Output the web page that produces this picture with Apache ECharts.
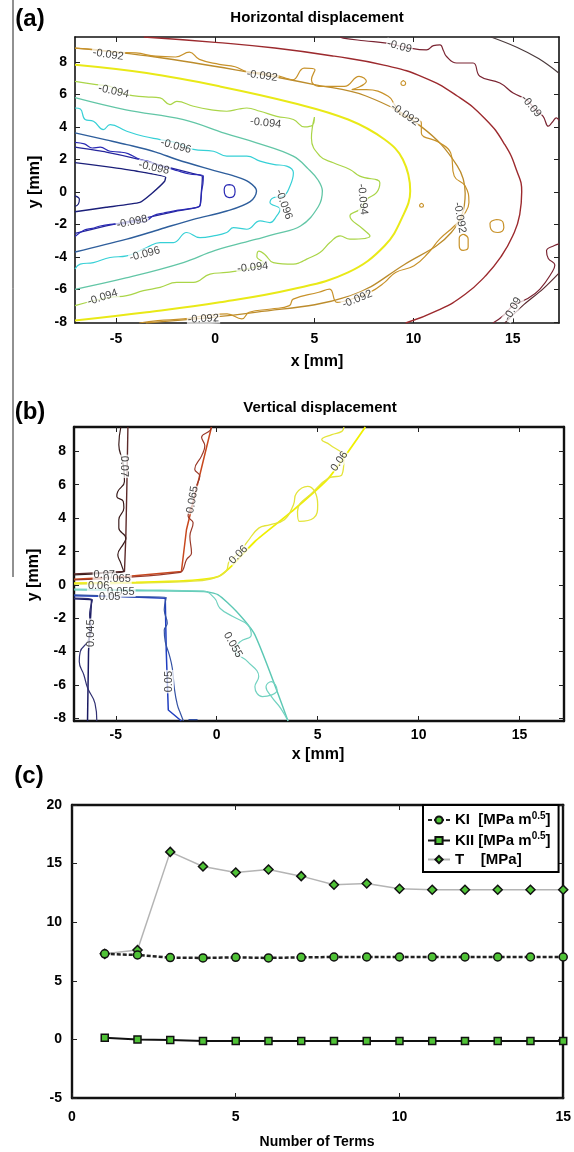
<!DOCTYPE html>
<html>
<head>
<meta charset="utf-8">
<script src="https://cdn.jsdelivr.net/npm/echarts@6/dist/echarts.min.js"></script>
<style>
html,body{margin:0;padding:0;background:#fff;}
#c{width:574px;height:1152px;}
</style>
</head>
<body>
<div id="c"></div>
<script>
// ---------------- Panel (a): horizontal displacement contours [x mm, y mm] ----------------
const aNavyInner = [[-7.07,1.8],[-5.5,1.55],[-4.0,1.28],[-2.5,0.9],[-2.55,0.65],[-3.2,-0.1],[-3.8,-0.65],[-5.5,-0.95],[-7.07,-1.22]];
const aNavyNub = [[-7.07,-0.25],[-6.85,-0.45],[-6.9,-0.75],[-7.07,-0.9]];
const aNavyOuter = [[-7.07,2.75],[-5.5,2.45],[-4,2.05],[-2.5,1.55],[-1.2,1.15],[-0.65,0.95],[-0.7,0.0],[-0.8,-0.9],[-2.0,-1.2],[-3.5,-1.6],[-5.5,-2.1],[-7.07,-2.55]];
const aNavyNoisy = [[-7.07,3.05],[-6.6,2.95],[-6.2,2.7],[-5.8,2.75],[-5.3,2.5],[-4.8,2.45],[-4.4,2.35],[-3.8,2.0],[-3.3,1.85],[-2.8,1.6],[-2.3,1.45],[-1.9,1.3],[-1.3,1.1],[-0.6,0.97],[-0.62,0.5],[-0.68,0.1],[-0.72,-0.5],[-0.78,-0.87],[-1.4,-1.05],[-2.0,-1.15],[-2.6,-1.3],[-3.1,-1.45],[-3.6,-1.85],[-4.1,-1.85],[-4.6,-1.95],[-5.3,-2.0],[-5.8,-2.1],[-6.2,-2.25],[-6.6,-2.35],[-7.07,-2.75]];
const aNavyDot = [[0.72,0.45],[0.95,0.32],[1.0,0.0],[0.92,-0.28],[0.7,-0.35],[0.5,-0.2],[0.45,0.15],[0.55,0.4],[0.72,0.45]];
const aSteel = [[-7.07,3.63],[-5.5,3.2],[-4.46,2.91],[-3,2.45],[-1.94,1.99],[-0.26,1.38],[1.0,0.95],[1.7,0.6],[2.08,0.05],[1.76,-0.6],[0.58,-1.18],[-1.1,-1.69],[-2.78,-2.3],[-4.46,-2.91],[-7.07,-3.7]];
const aCyanNoisy = [[-7.07,5.16],[-6.8,5.1],[-6.56,4.45],[-6.14,4.35],[-5.64,3.83],[-5.3,4.14],[-4.46,3.73],[-3.62,3.42],[-2.78,3.22],[-1.94,3.02],[-1.1,2.61],[-0.09,2.5],[0.58,2.2],[1.59,2.2],[2.26,1.89],[2.93,1.69],[3.6,1.58],[3.94,1.18],[3.77,0.36],[3.43,-0.26],[2.93,-0.36],[2.76,-0.66],[3.27,-1.07],[3.1,-1.48],[2.76,-1.89],[2.26,-1.79],[1.59,-2.3],[0.92,-2.2],[0.58,-2.5],[-0.09,-2.71],[-0.77,-2.81],[-1.44,-2.5],[-2.11,-3.12],[-2.78,-3.12],[-3.45,-3.42],[-4.46,-3.94],[-5.3,-4.04],[-6.14,-4.35],[-6.81,-4.45],[-7.07,-4.75]];
const aTeal = [[-7.07,5.8],[-4.5,5.05],[-1.6,4.45],[0.5,3.6],[2.08,3.02],[3.93,2.2],[4.7,1.4],[5.2,0.7],[5.4,0.05],[5.2,-0.9],[4.3,-2.1],[3.0,-2.6],[2.08,-2.91],[0,-3.6],[-1.61,-4.35],[-4.5,-5.3],[-7.07,-6.0]];
const aYGNoisy = [[-7.07,6.8],[-6.0,6.6],[-5.3,6.49],[-4.46,5.98],[-3.5,5.85],[-2.78,5.78],[-2.28,5.37],[-1.94,5.57],[-1.1,5.27],[-0.26,5.06],[0.58,4.96],[1.2,5.1],[1.59,5.16],[2.26,4.96],[3.1,4.65],[3.94,4.45],[4.5,4.0],[4.9,4.1],[5.0,4.6],[4.85,3.3],[5.28,2.2],[5.95,1.79],[6.79,1.38],[7.29,0.97],[8.3,0.56],[8.13,-0.05],[7.63,-0.46],[7.29,-1.07],[6.79,-1.48],[7.46,-2.3],[7.8,-2.71],[6.79,-2.91],[6.29,-2.71],[5.78,-3.12],[5.28,-3.73],[4.61,-4.14],[4.27,-4.35],[3.94,-4.45],[2.93,-4.35],[2.5,-3.85],[2.2,-3.65],[2.1,-4.0],[2.43,-4.35],[1.59,-4.75],[0.58,-4.96],[-0.26,-5.06],[-1.1,-5.57],[-1.94,-5.57],[-2.78,-5.88],[-3.62,-6.08],[-4.46,-6.39],[-5.3,-6.49],[-6.14,-6.7],[-7.07,-7.0]];
const aYellow = [[-7.07,7.82],[-3.46,7.31],[0.23,6.49],[3.93,5.47],[6.7,4.45],[8.54,3.22],[9.46,1.99],[9.83,0.05],[9.46,-1.48],[8.54,-3.32],[6.7,-4.96],[3.93,-5.98],[0.23,-6.8],[-3.46,-7.41],[-7.07,-7.92]];
const aOrangeSmooth = [[-7.07,8.85],[-3,8.3],[2,7.3],[5,6.6],[7.6,5.9],[10.4,4.0],[12.2,1.6],[12.6,-0.1],[11.9,-2.5],[9.5,-4.5],[6.8,-6.4],[2.1,-7.4],[-3.5,-8.07]];
const aOrangeNoisy = [[-7.07,8.85],[-6.0,8.75],[-5.0,8.6],[-4.0,8.55],[-3.0,8.35],[-2.0,8.3],[-1.3,8.6],[-0.8,8.15],[0.2,7.85],[1.0,7.7],[1.6,7.4],[2.5,7.3],[3.3,7.1],[3.9,6.9],[4.48,7.62],[5.03,7.52],[4.85,6.9],[5.22,6.49],[6.51,6.49],[7.25,7.11],[7.62,6.8],[6.88,6.29],[7.62,6.29],[8.72,5.88],[9.09,5.27],[9.46,4.65],[10.02,4.55],[10.39,4.24],[10.39,3.63],[11.31,3.02],[11.87,2.4],[12.05,0.97],[12.6,0.36],[12.79,-0.66],[12.6,-1.28],[12.05,-2.1],[11.31,-2.91],[10.76,-3.73],[10.02,-4.55],[9.09,-4.96],[8.54,-5.57],[7.8,-6.18],[6.88,-6.59],[6.14,-6.8],[5.77,-5.98],[5.22,-6.18],[3.93,-6.6],[3.74,-7.0],[2.82,-7.21],[1.71,-7.41],[1.34,-7.82],[0.6,-7.51],[-0.51,-7.62],[-1.61,-7.82],[-2.9,-7.92],[-3.83,-8.07]];
const aOrangeLoop1 = [[9.48,6.85],[9.6,6.7],[9.48,6.55],[9.36,6.7],[9.48,6.85]];
const aOrangeLoop2 = [[10.4,-0.7],[10.5,-0.83],[10.4,-0.95],[10.3,-0.83],[10.4,-0.7]];
const aOrangeLoop3 = [[14.18,-1.7],[14.5,-1.85],[14.55,-2.2],[14.25,-2.5],[13.9,-2.3],[13.85,-1.95],[14.18,-1.7]];
const aOrangeLoop4 = [[12.5,-2.6],[12.75,-2.9],[12.75,-3.4],[12.5,-3.6],[12.3,-3.3],[12.3,-2.85],[12.5,-2.6]];
const aRed = [[-3.6,9.53],[0,9.2],[3,8.85],[6,8.35],[8.5,7.8],[10.5,7.05],[12.2,5.9],[13.6,4.5],[14.6,2.9],[15.2,1.3],[15.45,0],[15.35,-1.4],[15.0,-2.7],[14.4,-4.0],[13.6,-5.2],[12.6,-6.3],[11.3,-7.25],[9.6,-8.07]];
const aGray = [[13.9,9.53],[15.2,8.9],[16.3,8.2],[17.33,7.3]];
const aMaroonTop = [[6.3,9.53],[6.45,9.46],[7.5,9.3],[8.64,9.15],[9.6,8.9],[10.65,8.74],[11.0,9.0],[11.33,9.05],[11.5,8.7],[11.66,8.33],[12.17,7.93],[13.0,7.93],[13.34,7.11],[14.35,6.7],[15.02,6.08],[15.7,5.67],[16.1,5.1],[16.53,4.65],[16.79,4.04],[17.0,4.3],[17.2,4.55],[17.33,4.4]];
const aMaroonBottom = [[17.33,-3.2],[17.1,-3.3],[16.7,-3.63],[16.79,-4.1],[17.12,-4.5],[17.0,-4.9],[16.37,-5.98],[15.7,-6.6],[15.02,-7.0],[14.52,-7.62],[14.0,-8.07]];
const aMaroonBottom2 = [[17.33,-5.0],[16.5,-6.0],[15.5,-7.0],[14.6,-8.07]];
const aLabels = [
  [-5.4,8.44,'-0.092',-8],[2.36,7.14,'-0.092',-8],[9.28,8.95,'-0.09',-15],
  [-5.12,6.19,'-0.094',-12],[2.54,4.24,'-0.094',-6],[9.56,4.75,'-0.092',-35],
  [15.93,5.27,'-0.09',-50],[-1.98,2.81,'-0.096',-15],[-3.09,1.48,'-0.098',-12],
  [7.43,-0.46,'-0.094',-85],[3.46,-0.77,'-0.096',-70],[-4.19,-1.85,'-0.098',12],
  [-3.55,-3.83,'-0.096',15],[1.89,-4.65,'-0.094',6],[-5.68,-6.49,'-0.094',18],
  [-0.6,-7.82,'-0.092',3],[7.16,-6.6,'-0.092',22],[12.33,-1.58,'-0.092',-80],[15.0,-7.21,'-0.09',60]
];

// ---------------- Panel (b): vertical displacement contours ----------------
const bMaroonSmooth = [[-7.07,0.66],[-5.5,0.75],[-4.57,0.8],[-4.5,3.0],[-4.45,6.0],[-4.4,9.46]];
const bMaroonNoisy = [[-7.07,0.6],[-5.5,0.7],[-4.62,0.82],[-4.75,1.3],[-4.9,1.8],[-4.6,2.5],[-4.5,2.8],[-4.85,3.4],[-4.85,3.9],[-4.6,4.6],[-4.63,5.0],[-4.95,5.3],[-4.9,5.6],[-4.57,6.2],[-4.6,6.9],[-4.66,7.4],[-4.85,8.4],[-4.75,9.46]];
const bOrangeSmooth = [[-7.07,0.34],[-4.5,0.5],[-1.75,0.8],[-1.5,3.3],[-0.26,9.46]];
const bOrangeNoisy = [[-7.07,0.3],[-4.5,0.45],[-1.8,0.75],[-1.67,0.9],[-1.5,1.5],[-1.25,1.91],[-1.33,2.91],[-1.17,3.72],[-1.42,4.12],[-1.17,4.92],[-1.0,5.92],[-0.84,6.53],[-1.09,6.93],[-0.75,7.73],[-0.59,8.33],[-0.75,8.84],[-0.34,9.24],[-0.26,9.46]];
const bYellowSmooth = [[-7.07,0.1],[-4,0.15],[-1.5,0.25],[0.07,0.5],[0.8,1.2],[1.89,2.6],[3.72,4.4],[5.54,6.4],[7.36,9.46]];
const bYellowNoisy = [[-7.07,0.05],[-4,0.1],[-1.5,0.2],[-0.3,0.35],[0.45,0.8],[0.62,1.4],[1.1,1.9],[1.53,2.6],[2.08,3.4],[2.62,3.6],[3.35,3.9],[3.8,4.8],[3.95,5.5],[4.5,5.9],[4.85,5.6],[5.0,4.8],[4.8,4.0],[4.1,3.8],[4.0,4.4],[4.8,5.6],[5.54,6.4],[6.2,6.6],[6.3,7.6],[5.6,8.4],[5.2,8.7],[5.7,9.0],[6.2,9.2],[6.3,9.46]];
const bTealSmooth = [[-7.07,-0.3],[-4,-0.35],[-0.66,-0.4],[0.07,-0.6],[0.98,-1.6],[1.89,-3.0],[3.53,-8.16]];
const bTealNoisy = [[-7.07,-0.25],[-4,-0.3],[-0.66,-0.38],[-0.11,-0.8],[0.16,-1.4],[0.8,-1.9],[1.53,-2.4],[1.71,-3.0],[1.17,-3.4],[0.89,-3.9],[1.53,-4.6],[2.08,-5.5],[1.89,-6.1],[2.26,-6.7],[2.99,-6.3],[2.71,-5.8],[2.44,-6.1],[2.71,-6.7],[3.17,-7.4],[3.53,-8.16]];
const bBlueSmooth = [[-7.07,-0.65],[-4.5,-0.72],[-2.55,-0.8],[-2.5,-4.0],[-2.4,-7.5],[-1.75,-8.16]];
const bBlueNoisy = [[-7.07,-0.6],[-4.5,-0.7],[-2.5,-0.75],[-2.6,-1.5],[-2.45,-2.3],[-2.6,-2.7],[-2.55,-3.4],[-2.35,-4.2],[-2.2,-5.0],[-2.1,-6.2],[-1.95,-7.2],[-1.8,-7.7],[-1.65,-8.16]];
const bBlueBit = [[-1.4,-8.08],[-0.95,-8.08]];
const bNavySmooth = [[-7.07,-0.84],[-6.3,-0.88],[-6.2,-0.9],[-6.35,-4.0],[-6.4,-8.16]];
const bNavyNoisy = [[-7.07,-0.8],[-6.16,-0.9],[-6.3,-1.8],[-6.21,-2.6],[-6.39,-3.4],[-6.76,-4.0],[-6.81,-4.6],[-6.58,-5.4],[-6.39,-6.2],[-6.03,-7.1],[-5.94,-8.16]];
const bLabels = [
  [-4.57,7.1,'0.07',-90],[-1.2,5.1,'0.065',80],[6.08,7.4,'0.06',55],[1.07,1.8,'0.06',45],
  [0.8,-3.6,'0.055',-60],[-2.39,-5.8,'0.05',90],[-6.21,-2.9,'0.045',90],
  [-5.57,0.6,'0.07',0],[-4.94,0.36,'0.065',0],[-5.85,-0.04,'0.06',0],[-4.75,-0.4,'0.055',0],[-5.3,-0.7,'0.05',0]
];

// ---------------- Panel (c): SIF fitting vs number of terms ----------------
const terms = [1,2,3,4,5,6,7,8,9,10,11,12,13,14,15];
const KI  = [7.3,7.2,6.98,6.95,7.0,6.95,7.0,7.03,7.03,7.03,7.03,7.03,7.03,7.03,7.03];
const KII = [0.14,0.0,-0.06,-0.14,-0.14,-0.14,-0.14,-0.14,-0.14,-0.14,-0.14,-0.14,-0.14,-0.14,-0.14];
const Tst = [7.3,7.63,16.0,14.75,14.24,14.5,13.93,13.2,13.3,12.85,12.77,12.77,12.77,12.77,12.77];

// tick labels
const xTicksMM = [-5,0,5,10,15];
const yTicksMM = [-8,-6,-4,-2,0,2,4,6,8];
const xTicksC = [0,5,10,15];
const yTicksC = [-5,0,5,10,15,20];

const FF = '"Liberation Sans", Arial, sans-serif';
const chart = echarts.init(document.getElementById('c'), null, {renderer:'canvas'});

const xAxes = [], yAxes = [];
function addAxes(g, xr, yr, xt, yt, lw, lm, ym, fs){
  const line = {show:true, onZero:false, lineStyle:{color:'#111', width:lw}};
  const tick = (vals)=>({show:true, inside:true, length:5, customValues:vals, lineStyle:{color:'#222', width:1}});
  const lab = (vals, m)=>({show:true, customValues:vals, margin:m, fontSize:fs, fontWeight:'bold', color:'#000', fontFamily:FF});
  xAxes.push({type:'value', gridIndex:g, position:'bottom', min:xr[0], max:xr[1], axisLine:line, axisTick:tick(xt), axisLabel:lab(xt,lm), splitLine:{show:false}});
  xAxes.push({type:'value', gridIndex:g, position:'top', min:xr[0], max:xr[1], axisLine:line, axisTick:tick(xt), axisLabel:{show:false}, splitLine:{show:false}});
  yAxes.push({type:'value', gridIndex:g, position:'left', min:yr[0], max:yr[1], axisLine:line, axisTick:tick(yt), axisLabel:lab(yt,ym), splitLine:{show:false}});
  yAxes.push({type:'value', gridIndex:g, position:'right', min:yr[0], max:yr[1], axisLine:line, axisTick:tick(yt), axisLabel:{show:false}, splitLine:{show:false}});
}
addAxes(0, [-7.07,17.33], [-8.07,9.53], xTicksMM, yTicksMM, 1.6, 9, 8, 14);
addAxes(1, [-7.07,17.2], [-8.16,9.46], xTicksMM, yTicksMM, 2.4, 7, 8, 14);
addAxes(2, [0,15], [-5,20], xTicksC, yTicksC, 2.4, 12, 10, 14);

const series = [];
function cl(g, data, color, width, smooth){
  series.push({type:'line', xAxisIndex:2*g, yAxisIndex:2*g, data:data, showSymbol:false, symbol:'none',
    smooth:smooth, clip:true, silent:true, lineStyle:{color:color, width:width}, z:2});
}
// (a)
cl(0, aNavyInner, '#1b1f7a', 1.4, 0.15);
cl(0, aNavyNub, '#1b1f7a', 1.2, 0.4);
cl(0, aNavyOuter, '#26269c', 1.3, 0.15);
cl(0, aNavyNoisy, '#2a2ab4', 1.2, 0.4);
cl(0, aNavyDot, '#2a2ab4', 1.2, 0.5);
cl(0, aSteel, '#2e5e9c', 1.4, 0.35);
cl(0, aCyanNoisy, '#36d0d6', 1.2, 0.45);
cl(0, aTeal, '#62c6a6', 1.3, 0.4);
cl(0, aYGNoisy, '#aad548', 1.2, 0.45);
cl(0, aYellow, '#e9e917', 2.0, 0.4);
cl(0, aOrangeSmooth, '#bc8c2c', 1.3, 0.4);
cl(0, aOrangeNoisy, '#c8922a', 1.2, 0.45);
cl(0, aOrangeLoop1, '#c8922a', 1.1, 0.5);
cl(0, aOrangeLoop2, '#c8922a', 1.1, 0.5);
cl(0, aOrangeLoop3, '#c8922a', 1.2, 0.5);
cl(0, aOrangeLoop4, '#c8922a', 1.2, 0.5);
cl(0, aRed, '#9c2a2e', 1.4, 0.5);
cl(0, aGray, '#4a3a3c', 1.2, 0.4);
cl(0, aMaroonTop, '#7a2432', 1.2, 0.45);
cl(0, aMaroonBottom, '#7a2432', 1.2, 0.45);
cl(0, aMaroonBottom2, '#5a2a30', 1.2, 0.3);
// (b)
cl(1, bMaroonSmooth, '#5c2a2a', 1.4, 0);
cl(1, bMaroonNoisy, '#3a1c1c', 1.2, 0.45);
cl(1, bOrangeSmooth, '#c8481e', 1.5, 0);
cl(1, bOrangeNoisy, '#9a3a2a', 1.2, 0.45);
cl(1, bYellowSmooth, '#f0f000', 1.8, 0.2);
cl(1, bYellowNoisy, '#e4e43a', 1.3, 0.45);
cl(1, bTealSmooth, '#5cc8b4', 1.4, 0.2);
cl(1, bTealNoisy, '#72d2c0', 1.2, 0.45);
cl(1, bBlueSmooth, '#1f3ec0', 1.5, 0);
cl(1, bBlueNoisy, '#3452a4', 1.2, 0.45);
cl(1, bBlueBit, '#3452a4', 1.2, 0);
cl(1, bNavySmooth, '#1a1a62', 1.5, 0);
cl(1, bNavyNoisy, '#303072', 1.2, 0.45);

function labels(g, arr){
  series.push({type:'scatter', xAxisIndex:2*g, yAxisIndex:2*g, symbolSize:1, silent:true, z:5,
    itemStyle:{color:'rgba(0,0,0,0)'},
    label:{show:true, position:'inside', fontSize:11, fontFamily:FF, color:'#111',
      backgroundColor:'rgba(255,255,255,0.9)', padding:[0,1],
      formatter:(p)=>arr[p.dataIndex][2]},
    data: arr.map(d=>({value:[d[0],d[1]], label:{rotate:d[3]}}))});
}
labels(0, aLabels);
labels(1, bLabels);

// (c)
const green = '#4fc236';
series.push({name:'KI', type:'line', xAxisIndex:4, yAxisIndex:4, data:terms.map((t,i)=>[t,KI[i]]),
  symbol:'circle', symbolSize:8, showSymbol:true, z:4,
  itemStyle:{color:green, borderColor:'#111', borderWidth:1.5},
  lineStyle:{color:'#222', width:2.5, type:[4,2]}});
series.push({name:'KII', type:'line', xAxisIndex:4, yAxisIndex:4, data:terms.map((t,i)=>[t,KII[i]]),
  symbol:'rect', symbolSize:7, showSymbol:true, z:3,
  itemStyle:{color:green, borderColor:'#111', borderWidth:1.5},
  lineStyle:{color:'#111', width:2}});
series.push({name:'T', type:'line', xAxisIndex:4, yAxisIndex:4, data:terms.map((t,i)=>[t,Tst[i]]),
  symbol:'diamond', symbolSize:9, showSymbol:true, z:3,
  itemStyle:{color:green, borderColor:'#111', borderWidth:1.5},
  lineStyle:{color:'#b4b4b4', width:1.5}});

const txt = (x,y,t,font,opt)=>Object.assign({type:'text', x:x, y:y, z:50,
  style:{text:t, font:font, fill:'#000', align:'center', verticalAlign:'middle'}}, opt||{});

chart.setOption({
  animation:false,
  backgroundColor:'#fff',
  grid:[
    {left:75, top:37, width:484, height:286},
    {left:74, top:427, width:490, height:294},
    {left:72, top:805, width:492, height:293}
  ],
  xAxis:xAxes, yAxis:yAxes, series:series,
  legend:{data:['KI','KII','T'], orient:'vertical', left:423, top:805, padding:[6,8,5,4], itemGap:4,
    itemWidth:22, itemHeight:9, borderColor:'#000', borderWidth:2, backgroundColor:'#fff', z:20,
    textStyle:{fontFamily:FF, fontWeight:'bold', fontSize:15, color:'#000',
      rich:{n:{fontFamily:FF, fontWeight:'bold', fontSize:15, color:'#000', lineHeight:18},
            s:{fontFamily:FF, fontWeight:'bold', fontSize:10, color:'#000', verticalAlign:'top', lineHeight:10}}},
    formatter:(n)=> n==='KI' ? '{n|KI  [MPa m}{s|0.5}{n|]}' : (n==='KII' ? '{n|KII [MPa m}{s|0.5}{n|]}' : '{n|T    [MPa]}')
  },
  graphic:[
    {type:'line', z:50, shape:{x1:13,y1:0,x2:13,y2:577}, style:{stroke:'#222', lineWidth:1}},
    txt(30,19,'(a)','bold 24px '+FF),
    txt(30,412,'(b)','bold 24px '+FF),
    txt(29,776,'(c)','bold 24px '+FF),
    txt(317,18,'Horizontal displacement','bold 15px '+FF),
    txt(320,408,'Vertical displacement','bold 15px '+FF),
    txt(317,362,'x [mm]','bold 16px '+FF),
    txt(318,755,'x [mm]','bold 16px '+FF),
    txt(317,1142,'Number of Terms','bold 14px '+FF),
    txt(35,182,'y [mm]','bold 16px '+FF,{rotation:Math.PI/2}),
    txt(34,575,'y [mm]','bold 16px '+FF,{rotation:Math.PI/2})
  ]
});
</script>
</body>
</html>
